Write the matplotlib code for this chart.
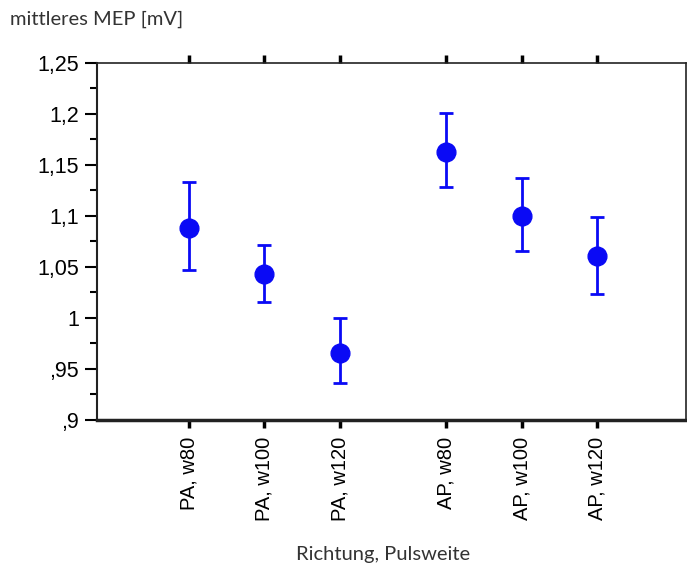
import matplotlib.pyplot as plt
from matplotlib.ticker import MultipleLocator, FuncFormatter

# categories and values
labels = ['PA, w80', 'PA, w100', 'PA, w120', 'AP, w80', 'AP, w100', 'AP, w120']
positions = [0, 1, 2, 3.42, 4.42, 5.42]
means = [1.088, 1.043, 0.966, 1.163, 1.100, 1.061]
upper = [1.133, 1.071, 1.000, 1.201, 1.137, 1.099]
lower = [1.047, 1.016, 0.936, 1.128, 1.066, 1.023]
y_ticks = [0.9, 0.95, 1.0, 1.05, 1.1, 1.15, 1.2, 1.25]

err_low = [m - l for m, l in zip(means, lower)]
err_high = [u - m for m, u in zip(means, upper)]

fig = plt.figure(figsize=(6.87, 5.64), dpi=100)
ax = fig.add_axes([0.1412, 0.2553, 0.8573, 0.6335])

ax.errorbar(positions, means, yerr=[err_low, err_high], fmt='o', color='#0a0af5',
            markersize=13.5, elinewidth=2, capsize=5, capthick=2)

ax.set_xlim(-1.22, 6.6)
ax.set_ylim(0.9, 1.25)


def de_fmt(v, pos):
    s = f'{v:.2f}'.rstrip('0').rstrip('.')
    s = s.replace('.', ',')
    if s.startswith('0,'):
        s = s[1:]
    return s


ax.set_yticks(y_ticks)
ax.yaxis.set_major_formatter(FuncFormatter(de_fmt))
ax.yaxis.set_minor_locator(MultipleLocator(0.025))
ax.set_xticks(positions)
ax.set_xticklabels(labels, rotation=90, family='Liberation Sans', fontsize=14.5)
for t in ax.get_yticklabels():
    t.set_family('Liberation Sans')
    t.set_fontsize(15.5)

ax.tick_params(axis='y', which='major', length=9, width=1.5, direction='out', pad=4)
ax.tick_params(axis='y', which='minor', length=5, width=1.5, direction='out')
ax.tick_params(axis='x', which='major', length=6, width=2.5, direction='out',
               top=True, pad=6)

for side in ['top', 'right']:
    ax.spines[side].set_linewidth(1.2)
ax.spines['left'].set_linewidth(1.5)
ax.spines['bottom'].set_linewidth(2.5)
for s in ax.spines.values():
    s.set_color('#222222')

fig.text(0.0146, 0.965, 'mittleres MEP [mV]', family='Lato', fontsize=14.5,
         color='#333333', ha='left', va='center')
fig.text(0.558, 0.016, 'Richtung, Pulsweite', family='Lato', fontsize=14.5,
         color='#333333', ha='center', va='center')

fig.savefig('out.png', dpi=100)
